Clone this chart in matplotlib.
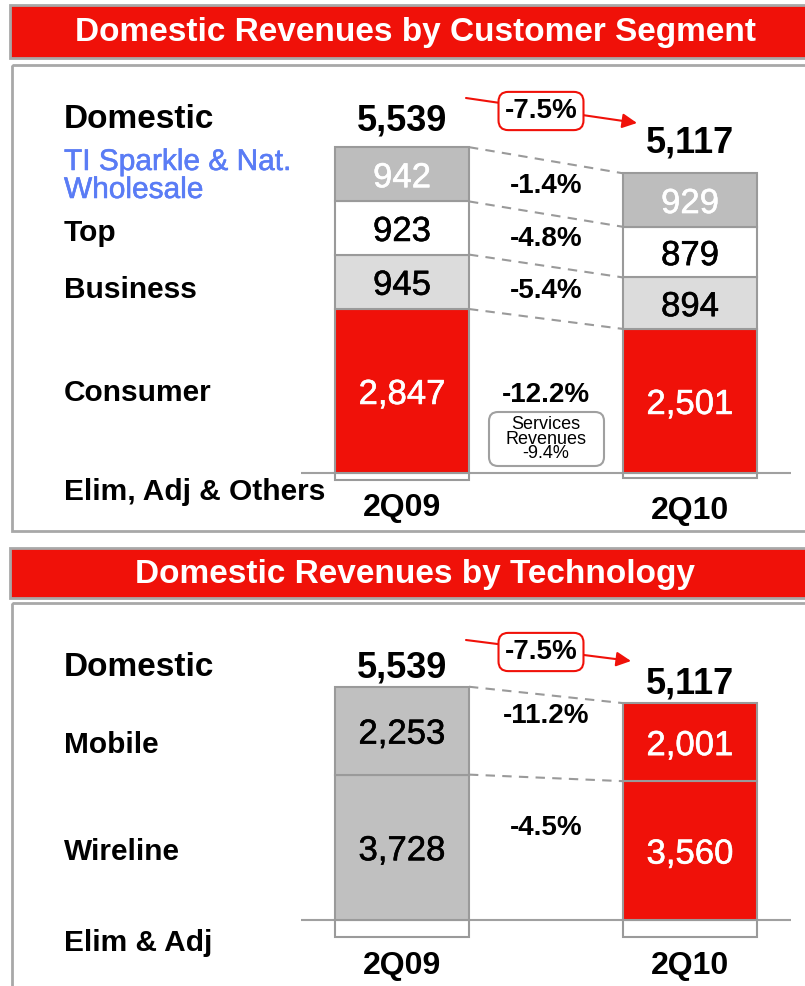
import matplotlib
matplotlib.use('Agg')
import matplotlib.pyplot as plt
import matplotlib.patheffects as pe
from matplotlib.patches import Rectangle, FancyBboxPatch
import numpy as np

W, H = 805, 986
RED = '#f01109'
EDGE = '#9a9a9a'
FONT = 'Liberation Sans'

periods = ["2Q09", "2Q10"]
# Customer segment panel
consumer = [2847, 2501]
business = [945, 894]
top_seg = [923, 879]
sparkle = [942, 929]
elim_others = [-118, -86]
domestic_total = [5539, 5117]
seg_changes = ["-12.2%", "-5.4%", "-4.8%", "-1.4%"]
total_change = "-7.5%"
services_change = "-9.4%"
# Technology panel
wireline = [3728, 3560]
mobile = [2253, 2001]
elim_adj = [-442, -444]
tech_changes = ["-4.5%", "-11.2%"]

fig = plt.figure(figsize=(W / 100, H / 100), dpi=100)
ov = fig.add_axes([0, 0, 1, 1])
ov.set_xlim(0, W)
ov.set_ylim(H, 0)
ov.axis('off')
ov.set_zorder(0)

# headers & frames
for (y0, h, title) in [(5, 53, "Domestic Revenues by Customer Segment"),
                       (548, 50, "Domestic Revenues by Technology")]:
    ov.add_patch(Rectangle((10, y0), 820, h, facecolor=RED, edgecolor='#a8a8a8', lw=2))
    ov.text(415, y0 + h / 2 + 1, title, color='white', fontsize=24, fontweight='bold',
            family=FONT, ha='center', va='center')
ov.add_patch(Rectangle((12, 65), 820, 466, facecolor='none', edgecolor='#a8a8a8', lw=2))
ov.add_patch(Rectangle((12, 603), 820, 420, facecolor='none', edgecolor='#a8a8a8', lw=2))

C0, UNIT = 402, 288
WIDTH = 0.465


def make_ax(px_top, px_bottom, base_px, scale, xlo=-0.35, xhi=1.35):
    lpx = C0 + xlo * UNIT
    rpx = C0 + xhi * UNIT
    ax = fig.add_axes([lpx / W, 1 - px_bottom / H, (rpx - lpx) / W, (px_bottom - px_top) / H])
    ax.set_xlim(xlo, xhi)
    ax.set_ylim(-(px_bottom - base_px) / scale, (base_px - px_top) / scale)
    ax.axis('off')
    ax.patch.set_alpha(0)
    ax.set_zorder(2)
    ax.axhline(0, color='#a0a0a0', lw=1.5, zorder=1)
    return ax


def stack(ax, x, segs, colors, txtcolors, elim):
    ax.bar(x, elim, WIDTH, color='white', edgecolor=EDGE, lw=1.5, zorder=2)
    bottom = np.zeros(len(x))
    bounds = []
    centers = []
    for vals, c, tc in zip(segs, colors, txtcolors):
        vals = np.array(vals, dtype=float)
        ax.bar(x, vals, WIDTH, bottom=bottom, color=c, edgecolor=EDGE, lw=1.5, zorder=3)
        for xi, b, v, t in zip(x, bottom, vals, tc):
            ax.annotate(f"{int(v):,}", (xi, b + v / 2), xytext=(0, -2.5),
                        textcoords='offset points', ha='center', va='center', color=t,
                        fontsize=25, family=FONT, zorder=5,
                        path_effects=[pe.withStroke(linewidth=0.4, foreground=t)])
        centers.append(bottom + vals / 2)
        bottom = bottom + vals
        bounds.append(bottom.copy())
    for b in bounds:
        ax.plot([x[0] + WIDTH / 2, x[1] - WIDTH / 2], [b[0], b[1]], ls=(0, (4.5, 3.5)),
                color='#9a9a9a', lw=1.5, zorder=1)
    return bounds, centers


x = np.arange(len(periods))

# ---------- top panel ----------
ax1 = make_ax(85, 505, 473, 0.0576)
b1, c1 = stack(ax1, x, [consumer, business, top_seg, sparkle],
               [[RED, RED], ['#dcdcdc'] * 2, ['white'] * 2, ['#bdbdbd'] * 2],
               [['white'] * 2, ['black'] * 2, ['black'] * 2, ['white'] * 2],
               elim_others)
for xi, top, tot, off in zip(x, b1[-1], domestic_total, [12, 15]):
    ax1.annotate(f"{tot:,}", (xi, top), xytext=(0, off), textcoords='offset points',
                 ha='center', va='baseline', fontsize=26, fontweight='bold', family=FONT)
for cen, lab in zip(c1, seg_changes):
    ax1.annotate(lab, (0.5, cen.mean()), xytext=(0, 1), textcoords='offset points',
                 ha='center', va='center', fontsize=20, fontweight='bold', family=FONT)
for xi, p, off in zip(x, periods, [-25, -27]):
    ax1.annotate(p, (xi, 0), xytext=(0, off), textcoords='offset points', ha='center',
                 va='center', fontsize=23, fontweight='bold', family=FONT)

# ---------- bottom panel ----------
ax2 = make_ax(625, 955, 920, 0.039)
b2, c2 = stack(ax2, x, [wireline, mobile],
               [['#c0c0c0', RED], ['#c0c0c0', RED]],
               [['black', 'white'], ['black', 'white']], elim_adj)
for xi, top, tot in zip(x, b2[-1], domestic_total):
    ax2.annotate(f"{tot:,}", (xi, top), xytext=(0, 7), textcoords='offset points',
                 ha='center', va='baseline', fontsize=26, fontweight='bold', family=FONT)
for cen, lab in zip(c2, tech_changes):
    ax2.annotate(lab, (0.5, cen.mean()), xytext=(0, 15), textcoords='offset points',
                 ha='center', va='center', fontsize=20, fontweight='bold', family=FONT)
for xi, p in zip(x, periods):
    ax2.annotate(p, (xi, 0), xytext=(0, -33), textcoords='offset points', ha='center',
                 va='center', fontsize=23, fontweight='bold', family=FONT)

# ---------- left labels ----------
labels = [("Domestic", 119, 24, 'black', 'bold'),
          ("TI Sparkle & Nat.\nWholesale", 176, 21.5, '#5a7cf5', 'normal'),
          ("Top", 233, 21.5, 'black', 'bold'), ("Business", 290, 21.5, 'black', 'bold'),
          ("Consumer", 393, 21.5, 'black', 'bold'),
          ("Elim, Adj & Others", 492, 21.5, 'black', 'bold'),
          ("Domestic", 667, 24, 'black', 'bold'), ("Mobile", 745, 21.5, 'black', 'bold'),
          ("Wireline", 852, 21.5, 'black', 'bold'), ("Elim & Adj", 943, 21.5, 'black', 'bold')]
for lab, y, fs, col, fw in labels:
    t = ov.text(64, y, lab, ha='left', va='center', fontsize=fs, fontweight=fw, color=col,
                family=FONT, linespacing=1.0)
    if fw == 'normal':
        t.set_path_effects([pe.withStroke(linewidth=0.4, foreground=col)])

# ---------- -7.5% arrows ----------
for (xs, ys, xe, ye, bx, by) in [(466, 98, 637, 123, 541, 111), (466, 640, 631, 661, 541, 652)]:
    ov.annotate('', xy=(xe, ye), xytext=(xs, ys),
                arrowprops=dict(arrowstyle='-|>', color=RED, lw=1.5, mutation_scale=22,
                                shrinkA=0, shrinkB=0))
    ov.text(bx, by, total_change, ha='center', va='center', fontsize=20, fontweight='bold',
            family=FONT, bbox=dict(boxstyle='round,pad=0.22,rounding_size=0.35', fc='white',
                                   ec=RED, lw=1.5))

# services revenues box
ov.add_patch(FancyBboxPatch((489, 412), 115, 54, boxstyle='round,pad=0,rounding_size=9',
                            fc='white', ec='#a0a0a0', lw=1.5))
ov.text(546, 439, "Services\nRevenues\n" + services_change, ha='center', va='center',
        fontsize=13, family=FONT, linespacing=0.78)

fig.savefig('out.png', dpi=100)
